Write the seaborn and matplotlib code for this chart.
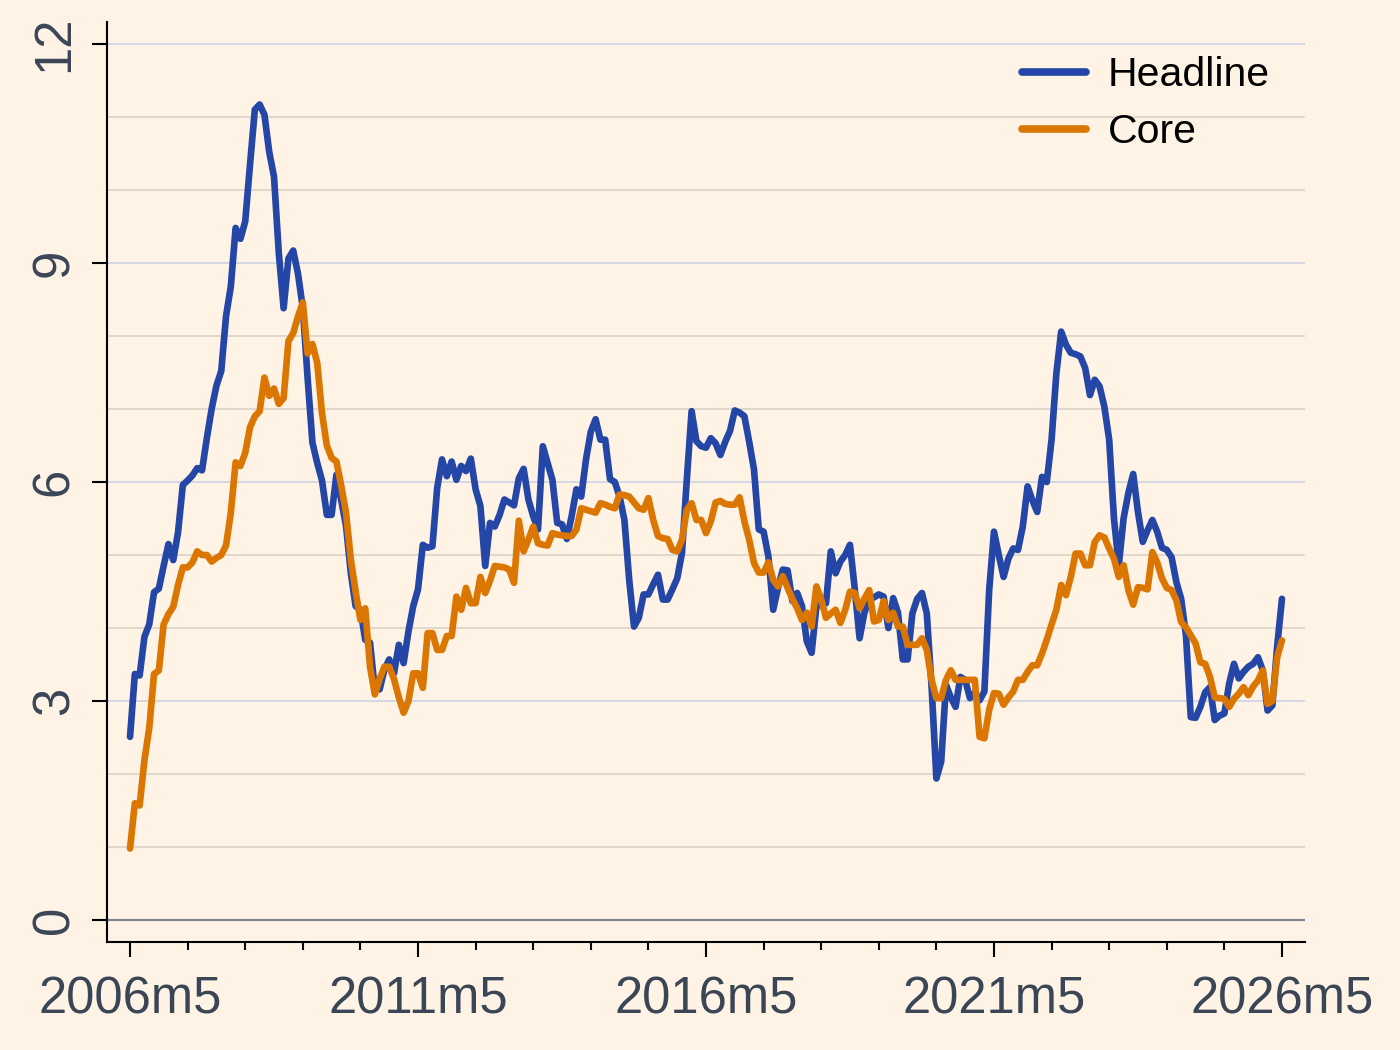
import numpy as np
import pandas as pd
import seaborn as sns
import matplotlib.pyplot as plt
from matplotlib.ticker import MultipleLocator

# monthly inflation, 2006m5 .. 2026m5
headline = [
    2.51, 3.37, 3.35, 3.88, 4.05, 4.49, 4.54, 4.85, 5.15, 4.93,
    5.31, 5.96, 6.02, 6.09, 6.19, 6.16, 6.6, 7.0, 7.32, 7.52,
    8.27, 8.68, 9.48, 9.33, 9.57, 10.35, 11.1, 11.17, 11.03, 10.52,
    10.18, 9.13, 8.38, 9.06, 9.17, 8.85, 8.38, 7.42, 6.54, 6.26,
    6.02, 5.55, 5.55, 6.1, 5.75, 5.4, 4.75, 4.3, 4.25, 3.84,
    3.8, 3.16, 3.16, 3.43, 3.57, 3.38, 3.77, 3.52, 3.95, 4.3,
    4.53, 5.14, 5.1, 5.12, 5.92, 6.31, 6.08, 6.28, 6.03, 6.22,
    6.15, 6.32, 5.9, 5.67, 4.85, 5.44, 5.39, 5.55, 5.76, 5.72,
    5.68, 6.05, 6.18, 5.76, 5.53, 5.35, 6.49, 6.26, 6.03, 5.44,
    5.42, 5.22, 5.53, 5.9, 5.8, 6.31, 6.69, 6.86, 6.58, 6.58,
    6.04, 6.0, 5.8, 5.48, 4.66, 4.02, 4.14, 4.46, 4.46, 4.6,
    4.73, 4.39, 4.39, 4.53, 4.68, 5.03, 6.03, 6.97, 6.56, 6.49,
    6.47, 6.6, 6.53, 6.37, 6.55, 6.7, 6.98, 6.95, 6.9, 6.55,
    6.17, 5.35, 5.32, 4.98, 4.25, 4.55, 4.8, 4.79, 4.37, 4.48,
    4.3, 3.82, 3.66, 4.3, 4.32, 4.34, 5.05, 4.75, 4.91, 5.0,
    5.14, 4.53, 3.86, 4.21, 4.39, 4.42, 4.46, 4.43, 4.0, 4.41,
    4.21, 3.57, 3.57, 4.2, 4.4, 4.48, 4.2, 3.2, 1.94, 2.17,
    3.22, 3.05, 2.92, 3.33, 3.29, 3.04, 3.11, 3.01, 3.13, 4.52,
    5.32, 5.0, 4.7, 4.95, 5.09, 5.07, 5.39, 5.94, 5.75, 5.59,
    6.07, 6.0, 6.58, 7.49, 8.06, 7.88, 7.77, 7.75, 7.72, 7.56,
    7.19, 7.4, 7.31, 7.03, 6.58, 5.5, 4.86, 5.5, 5.85, 6.11,
    5.59, 5.18, 5.34, 5.48, 5.32, 5.1, 5.07, 4.97, 4.63, 4.4,
    3.9, 2.78, 2.77, 2.92, 3.12, 3.19, 2.74, 2.8, 2.83, 3.24,
    3.51, 3.31, 3.4, 3.47, 3.51, 3.6, 3.42, 2.87, 2.94, 3.75,
    4.4,
]

core = [
    0.98, 1.6, 1.57, 2.19, 2.63, 3.37, 3.42, 4.05, 4.19, 4.29,
    4.59, 4.83, 4.83, 4.9, 5.05, 5.0, 5.0, 4.91, 4.96, 5.0,
    5.13, 5.58, 6.27, 6.22, 6.4, 6.75, 6.9, 6.97, 7.43, 7.18,
    7.28, 7.07, 7.15, 7.93, 8.04, 8.27, 8.46, 7.76, 7.89, 7.63,
    6.94, 6.5, 6.33, 6.28, 5.95, 5.58, 4.94, 4.5, 4.11, 4.27,
    3.47, 3.09, 3.3, 3.47, 3.47, 3.3, 3.05, 2.84, 3.0, 3.38,
    3.38, 3.18, 3.93, 3.93, 3.7, 3.7, 3.89, 3.89, 4.43, 4.25,
    4.55, 4.34, 4.34, 4.7, 4.48, 4.65, 4.85, 4.84, 4.83, 4.8,
    4.62, 5.47, 5.05, 5.21, 5.39, 5.16, 5.14, 5.13, 5.3, 5.28,
    5.27, 5.26, 5.26, 5.35, 5.64, 5.62, 5.6, 5.58, 5.71, 5.69,
    5.66, 5.64, 5.83, 5.82, 5.8, 5.72, 5.64, 5.62, 5.78, 5.48,
    5.26, 5.23, 5.22, 5.07, 5.05, 5.21, 5.62, 5.71, 5.48, 5.48,
    5.3, 5.46, 5.72, 5.74, 5.7, 5.69, 5.69, 5.79, 5.46, 5.21,
    4.89, 4.76, 4.76, 4.9, 4.66, 4.57, 4.71, 4.55, 4.4, 4.27,
    4.11, 4.21, 4.02, 4.57, 4.39, 4.14, 4.2, 4.25, 4.07, 4.25,
    4.5, 4.48, 4.27, 4.4, 4.52, 4.09, 4.11, 4.37, 4.11, 4.21,
    4.02, 4.02, 3.77, 3.77, 3.77, 3.86, 3.7, 3.29, 3.04, 3.04,
    3.29, 3.42, 3.29, 3.29, 3.29, 3.29, 3.29, 2.51, 2.49, 2.88,
    3.11, 3.1, 2.95, 3.05, 3.13, 3.29, 3.29, 3.4, 3.49, 3.49,
    3.65, 3.84, 4.05, 4.25, 4.59, 4.45, 4.7, 5.02, 5.02, 4.86,
    4.86, 5.18, 5.27, 5.24, 5.09, 4.95, 4.7, 4.86, 4.52, 4.32,
    4.56, 4.55, 4.53, 5.04, 4.9, 4.68, 4.55, 4.52, 4.38, 4.08,
    4.01, 3.9, 3.79, 3.53, 3.51, 3.33, 3.05, 3.04, 3.03, 2.92,
    3.03, 3.1, 3.19, 3.08, 3.2, 3.28, 3.42, 2.96, 3.0, 3.6,
    3.83,
]

series_names = ["Headline", "Core"]
series_colors = ["#2446a6", "#dc7603"]
xtick_labels = ["2006m5", "2011m5", "2016m5", "2021m5", "2026m5"]
ytick_values = [0, 3, 6, 9, 12]

bg = "#fff3e5"
ink = "#3a4556"

sns.set_style("ticks")
plt.rcParams["font.family"] = ["Liberation Sans", "DejaVu Sans"]

months = np.arange(len(headline))
df = pd.DataFrame({"month": months, "Headline": headline, "Core": core})
df_long = df.melt(id_vars="month", var_name="series", value_name="rate")

fig, ax = plt.subplots(figsize=(14, 10.5), dpi=100)
fig.patch.set_facecolor(bg)
ax.set_facecolor(bg)
ax.set_position([107 / 1400, 108 / 1050, 1198 / 1400, 920 / 1050])

sns.lineplot(data=df_long, x="month", y="rate", hue="series",
             hue_order=series_names, palette=series_colors,
             linewidth=4.8, ax=ax, zorder=3)
for line in ax.lines:
    line.set_linewidth(4.8)
    line.set_solid_joinstyle("round")

# grid: light lines at each unit, stronger at labelled ticks, grey zero line
ax.set_yticks(ytick_values)
ax.yaxis.set_minor_locator(MultipleLocator(1))
ax.grid(axis="y", which="minor", color="#dcd3c8", linewidth=1.2)
ax.grid(axis="y", which="major", color="#d4d8e2", linewidth=1.4)
ax.axhline(0, color="#7e8591", linewidth=1.6, zorder=2)
ax.set_axisbelow(True)

ax.set_xlim(-4.8, 244.8)
ax.set_ylim(-0.3, 12.3)
ax.set_xticks(np.arange(0, len(headline), 60))
ax.set_xticklabels(xtick_labels)
ax.xaxis.set_minor_locator(MultipleLocator(12))

ax.tick_params(axis="both", which="major", length=11, width=1.5,
               color="black", labelsize=36.5, labelcolor=ink)
ax.tick_params(axis="x", which="major", pad=13)
ax.tick_params(axis="y", which="major", pad=9)
ax.tick_params(axis="x", which="minor", length=5.5, width=1.5, color="black")
ax.tick_params(axis="y", which="minor", length=0)
for lab in ax.get_yticklabels():
    lab.set_rotation(90)
    lab.set_va("center")

sns.despine(ax=ax)
for side in ["left", "bottom"]:
    ax.spines[side].set_linewidth(1.5)
    ax.spines[side].set_color("black")

ax.set_xlabel("")
ax.set_ylabel("")

leg = ax.legend(loc="upper left", bbox_to_anchor=(0.733, 1.003), frameon=False,
                fontsize=29.5, handlelength=1.55, handletextpad=0.55,
                labelspacing=0.47, labelcolor="black")
for line in leg.get_lines():
    line.set_linewidth(5.5)

fig.savefig("out.png", dpi=100, facecolor=bg)
